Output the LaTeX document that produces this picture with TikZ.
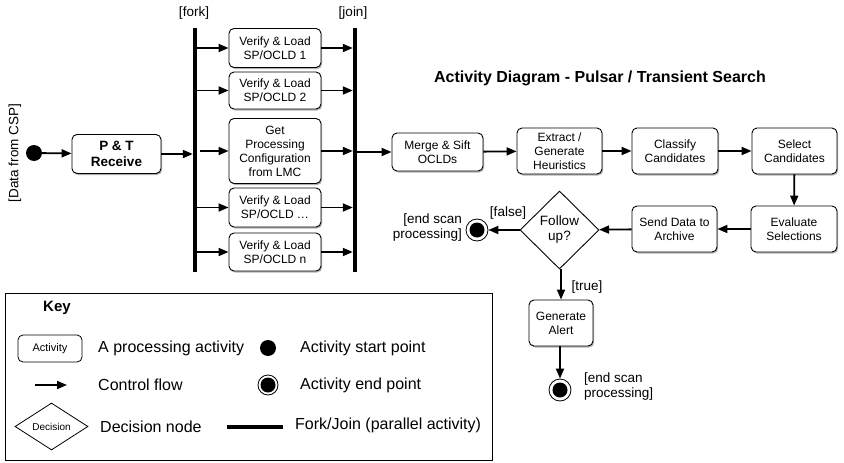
\documentclass[tikz,border=0pt]{standalone}
\usepackage{fontspec}
\setmainfont{Liberation Sans}
\usetikzlibrary{shapes.geometric,arrows.meta,shadows}

\begin{document}
\begin{tikzpicture}[x=1pt,y=-1pt,
  act/.style={draw, line width=0.9pt, rounded corners=5pt, fill=white, align=center, inner sep=0pt,
    font=\fontsize{12}{14}\selectfont,
    drop shadow={shadow xshift=1.2pt, shadow yshift=-1.5pt, opacity=0.3, fill=black}},
  flow/.style={line width=1.8pt, -{Triangle[length=10pt,width=8pt]}},
  bar/.style={fill=black, inner sep=0pt, minimum width=4pt},
  startpt/.style={circle, fill=black, inner sep=0pt, minimum size=16pt},
  endpt/.style={circle, draw, line width=0.8pt, fill=white, inner sep=0pt, minimum size=22pt,
    path picture={\fill[black] (path picture bounding box.center) circle (7.5pt);}},
  decision/.style={diamond, draw, line width=0.9pt, fill=white, inner sep=0pt, align=center},
  lbl/.style={font=\fontsize{13.5}{15}\selectfont, inner sep=0pt, align=center},
  keytxt/.style={font=\fontsize{16}{19}\selectfont, anchor=west, inner sep=0pt}
]
\useasboundingbox (0,0) rectangle (844,463);

% ---- title
\node[font=\fontsize{16}{19}\bfseries\selectfont] (title) at (600,78) {Activity Diagram - Pulsar / Transient Search};

% ---- left part
\node[lbl, rotate=90] (csp) at (15,153) {[Data from CSP]};
\node[startpt] (start) at (34,153) {};
\node[act, minimum width=89pt, minimum height=39pt, font=\fontsize{13.5}{16}\bfseries\selectfont] (ptr) at (116.5,154) {P \& T\\Receive};

\node[bar, minimum height=244pt] (fork) at (195,150) {};
\node[bar, minimum height=244pt] (join) at (355,150) {};
\node[lbl] (forklbl) at (194,13) {[fork]};
\node[lbl] (joinlbl) at (353,13) {[join]};

\node[act, minimum width=92pt, minimum height=39pt] (v1) at (275,48) {Verify \& Load\\SP/OCLD 1};
\node[act, minimum width=92pt, minimum height=37pt] (v2) at (275,90.5) {Verify \& Load\\SP/OCLD 2};
\node[act, minimum width=92pt, minimum height=65pt] (cfg) at (275,151) {Get\\Processing\\Configuration\\from LMC};
\node[act, minimum width=92pt, minimum height=39pt] (v3) at (275,207.5) {Verify \& Load\\SP/OCLD \dots};
\node[act, minimum width=92pt, minimum height=38pt] (v4) at (275,252) {Verify \& Load\\SP/OCLD n};

% ---- main flow
\node[act, minimum width=91pt, minimum height=38pt] (merge) at (437.5,152) {Merge \& Sift\\OCLDs};
\node[act, minimum width=85pt, minimum height=46pt] (extract) at (559.5,151) {Extract /\\Generate\\Heuristics};
\node[act, minimum width=86pt, minimum height=46pt] (classify) at (675,151) {Classify\\Candidates};
\node[act, minimum width=85pt, minimum height=46pt] (select) at (794.5,151) {Select\\Candidates};
\node[act, minimum width=86pt, minimum height=46pt] (evaluate) at (794,229) {Evaluate\\Selections};
\node[act, minimum width=85pt, minimum height=46pt] (send) at (674.5,229) {Send Data to\\Archive};
\node[decision, minimum width=79pt, minimum height=78pt, font=\fontsize{13.5}{15}\selectfont] (follow) at (559.5,230) {Follow\\up?};
\node[endpt] (end1) at (477,230) {};
\node[act, minimum width=64pt, minimum height=46pt] (alert) at (561,323) {Generate\\Alert};
\node[endpt] (end2) at (560,390) {};

\node[lbl] (falselbl) at (508,213) {[false]};
\node[lbl, anchor=east, align=right] (endlbl1) at (462,228) {[end scan\\processing]};
\node[lbl] (truelbl) at (587,287) {[true]};
\node[lbl, anchor=west, align=left] (endlbl2) at (584,387) {[end scan\\processing]};

% ---- connectors
\draw[flow] (start) -- (ptr);
\draw[flow] (ptr.east) -- (fork.west |- ptr.east);
\draw[flow] (fork.east |- v1.west) -- (v1.west);
\draw[flow] (fork.east |- v2.west) -- (v2.west);
\draw[flow] ([xshift=3pt]fork.east |- cfg.west) -- (cfg.west);
\draw[flow] (fork.east |- v3.west) -- (v3.west);
\draw[flow] (fork.east |- v4.west) -- (v4.west);
\draw[flow] (v1.east) -- (join.west |- v1.east);
\draw[flow] (v2.east) -- (join.west |- v2.east);
\draw[flow] (cfg.east) -- (join.west |- cfg.east);
\draw[flow] (v3.east) -- (join.west |- v3.east);
\draw[flow] (v4.east) -- (join.west |- v4.east);
\draw[flow] (join.east |- merge.west) -- (merge.west);
\draw[flow] (merge) -- (extract);
\draw[flow] (extract) -- (classify);
\draw[flow] (classify) -- (select);
\draw[flow] (select) -- (evaluate);
\draw[flow] (evaluate) -- (send);
\draw[flow] (send) -- (follow);
\draw[flow] (follow) -- (end1);
\draw[flow] (follow.south) -- (follow.south -| alert.north) -- (alert.north);
\draw[flow] (alert.south -| end2) -- (end2);

% ---- key
\node[draw, line width=1pt, minimum width=487pt, minimum height=167pt, inner sep=0pt] (keybox) at (248.5,376.5) {};
\node[font=\fontsize{15}{18}\bfseries\selectfont] (keyt) at (57,308) {Key};
\node[draw, line width=0.8pt, rounded corners=5pt, minimum width=64pt, minimum height=27pt, inner sep=0pt, font=\fontsize{11}{13}\selectfont] (kact) at (50,348.5) {Activity};
\node[keytxt] (kacttxt) at (98,348) {A processing activity};
\node[startpt] (kstart) at (268,348) {};
\node[keytxt] (kstarttxt) at (300,348) {Activity start point};
\coordinate (kf1) at (35,385);
\coordinate (kf2) at (67,385);
\draw[flow] (kf1) -- (kf2);
\node[keytxt] (kflowtxt) at (98,385) {Control flow};
\node[endpt, minimum size=20pt] (kend) at (268,385) {};
\node[keytxt] (kendtxt) at (300,385) {Activity end point};
\node[decision, line width=0.8pt, minimum width=73pt, minimum height=47pt, aspect=1.6, font=\fontsize{10}{12}\selectfont] (kdec) at (51.5,426.5) {Decision};
\node[keytxt] (kdectxt) at (100,427) {Decision node};
\node[fill=black, inner sep=0pt, minimum width=56pt, minimum height=4pt] (kbar) at (255,427) {};
\node[keytxt] (kbartxt) at (295,425) {Fork/Join (parallel activity)};
\end{tikzpicture}
\end{document}
